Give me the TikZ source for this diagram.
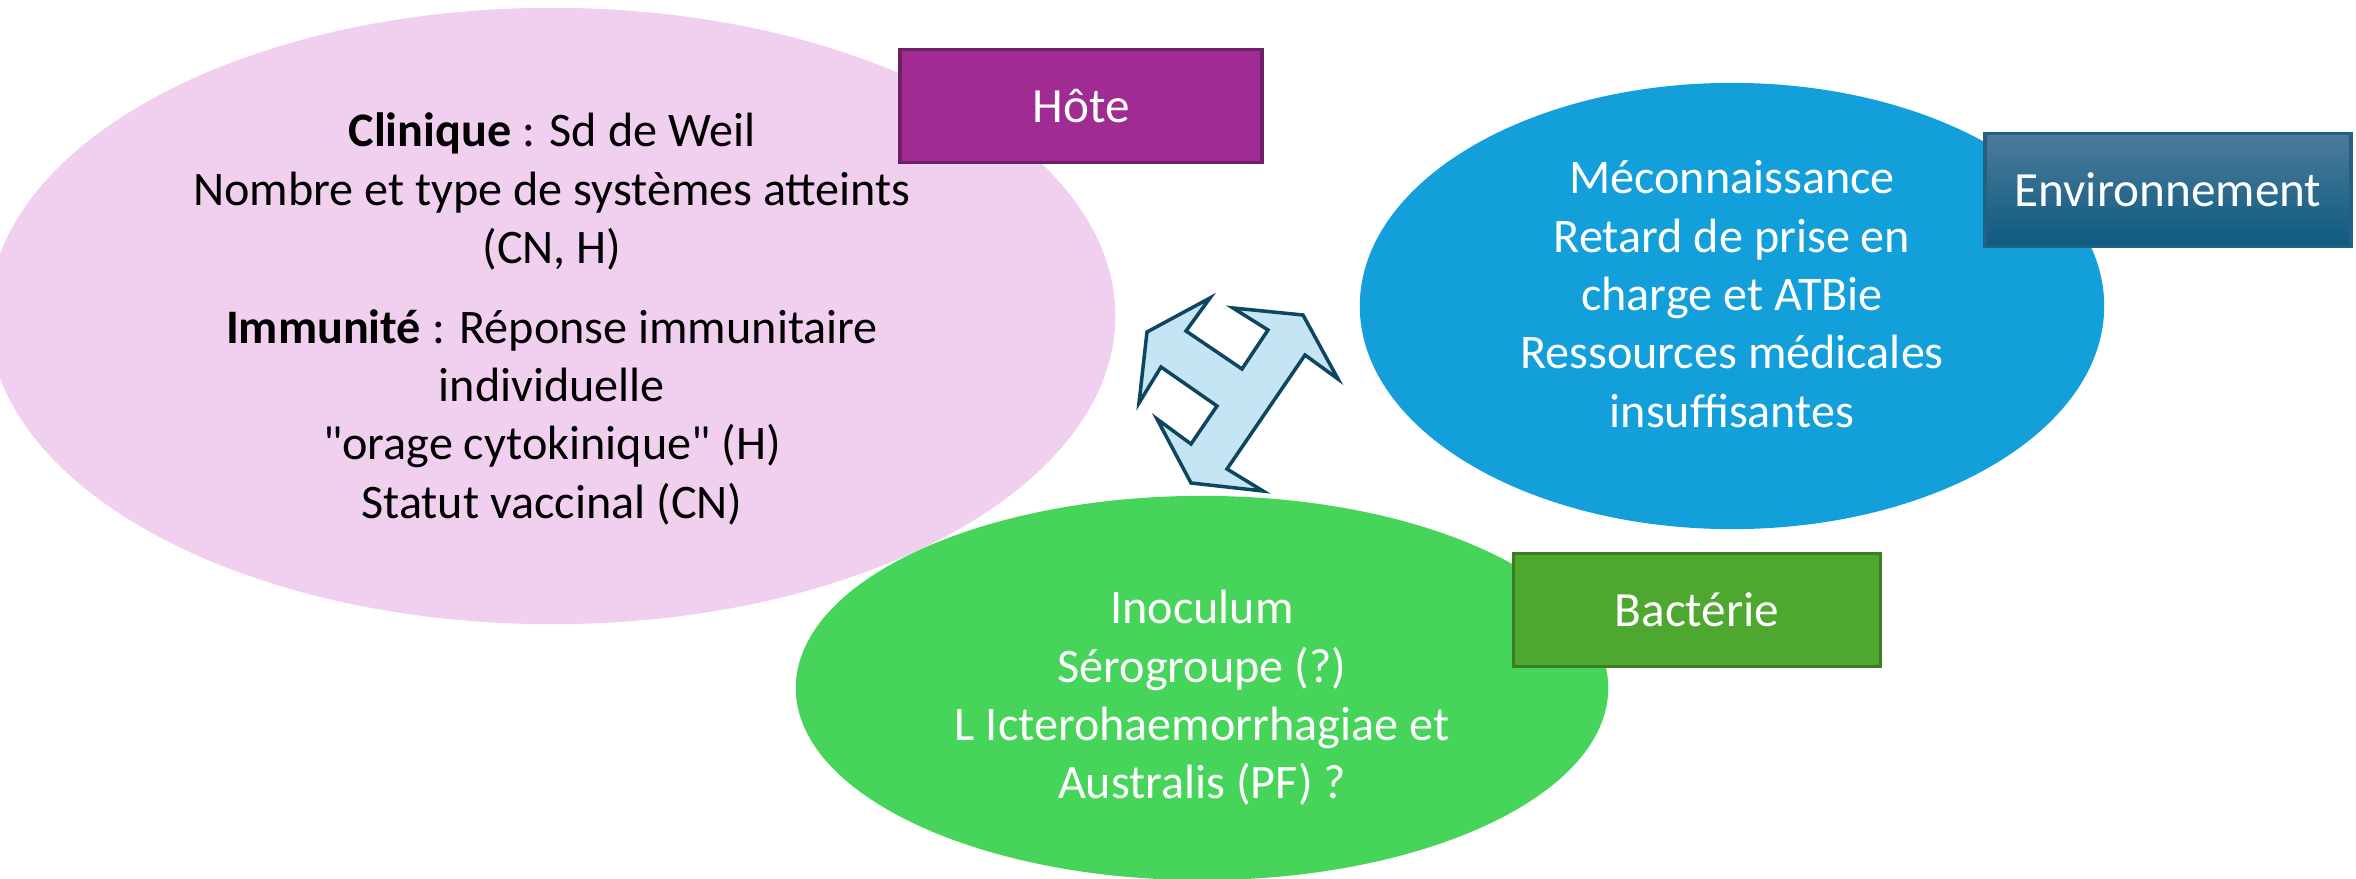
\documentclass[tikz,border=0pt]{standalone}
\usepackage{fontspec}
\setmainfont{Carlito}
\usetikzlibrary{shapes.geometric}
\definecolor{hotebg}{HTML}{F1CFEE}
\definecolor{envbg}{HTML}{139FD9}
\definecolor{bactbg}{HTML}{46D45B}
\definecolor{hotetag}{HTML}{A02B93}
\definecolor{hoteline}{HTML}{6E1F68}
\definecolor{envtop}{HTML}{4D7B9B}
\definecolor{envbot}{HTML}{0D5A80}
\definecolor{envline}{HTML}{24607F}
\definecolor{bacttag}{HTML}{4EA72E}
\definecolor{bactline}{HTML}{3A7D22}
\definecolor{cyclefill}{HTML}{C5E5F5}
\definecolor{cycleline}{HTML}{0E4560}

\begin{document}
\begin{tikzpicture}[x=0.01cm,y=-0.01cm,
  zone/.style={ellipse,inner sep=0pt},
  zonetext/.style={align=center,font=\fontsize{13.7}{16.6}\selectfont},
  tag/.style={draw,line width=1pt,minimum height=1.13cm,text=white,font=\fontsize{14}{16.5}\selectfont}]
\useasboundingbox (0,0) rectangle (2356,879);
\node[zone,fill=hotebg,minimum width=11.26cm,minimum height=6.16cm] (hote) at (552,316) {};
\node[zone,fill=envbg,minimum width=7.44cm,minimum height=4.46cm] (env) at (1732,306) {};
\node[zone,fill=bactbg,minimum width=8.12cm,minimum height=3.84cm] (bact) at (1202,688) {};
\node[zonetext] (hotetxt) at ([yshift=-0.03cm]hote.center)
  {\textbf{Clinique} : Sd de Weil\\Nombre et type de systèmes atteints\\(CN, H)\\[6pt]
   \textbf{Immunité} : Réponse immunitaire\\individuelle\\\textquotedbl orage cytokinique\textquotedbl{} (H)\\Statut vaccinal (CN)};
\node[zonetext,text=white] (envtxt) at ([yshift=0.12cm]env.center)
  {Méconnaissance\\Retard de prise en\\charge et ATBie\\Ressources médicales\\insuffisantes};
\node[zonetext,text=white] (bacttxt) at ([yshift=-0.1cm]bact.center)
  {Inoculum\\Sérogroupe (?)\\L Icterohaemorrhagiae et\\Australis (PF) ?};
\node[tag,fill=hotetag,draw=hoteline,minimum width=3.62cm] (hotetag) at (1081,106) {Hôte};
\node[tag,top color=envtop,bottom color=envbot,draw=envline,minimum width=3.66cm] (envtag) at (2168,190) {Environnement};
\node[tag,fill=bacttag,draw=bactline,minimum width=3.67cm] (bacttag) at (1697,610) {Bactérie};
% cycle arrow in the middle
\draw[fill=cyclefill,draw=cycleline,line width=1pt,line join=miter]
  (1210,298) -- (1186,331) -- (1242,369) -- (1268,330) -- (1233,308) -- (1303,315)
  -- (1338,379) -- (1305,355) -- (1227,469) -- (1263,491) -- (1191,483) -- (1157,419)
  -- (1191,444) -- (1217,406) -- (1161,367) -- (1139,403) -- (1147,332) -- cycle;
\end{tikzpicture}
\end{document}
